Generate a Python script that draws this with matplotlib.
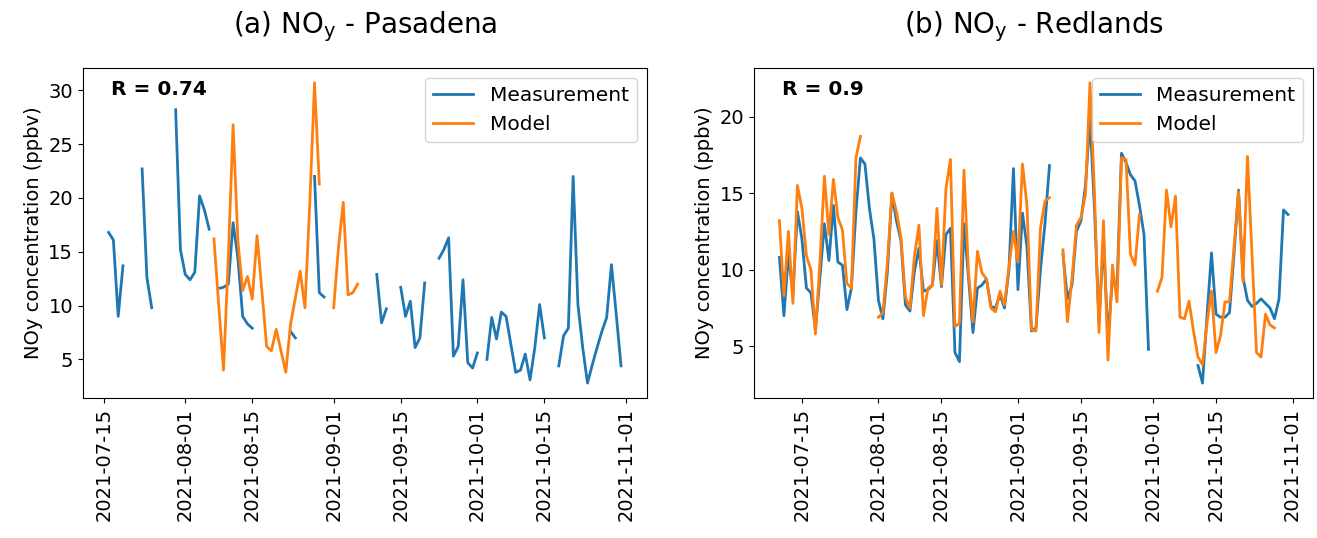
import numpy as np
import pandas as pd
import matplotlib
matplotlib.use("Agg")
import matplotlib.pyplot as plt
import matplotlib.dates as mdates

nan = np.nan

# Pasadena - daily NOy (ppbv)
pas_meas_start = "2021-07-16"
pas_meas = [16.8, 16.1, 9.0, 13.7, nan, nan, nan, 22.7, 12.6, 9.8, nan, nan, nan, nan, 28.2, 15.2,
            12.9, 12.4, 13.1, 20.2, 18.9, 17.1, nan, 11.6, 11.7, 12.0, 17.7, 14.4, 9.0, 8.3, 7.9,
            nan, nan, nan, nan, nan, nan, nan, 7.6, 7.0, nan, nan, nan, 22.0, 11.2, 10.8, nan,
            nan, nan, nan, nan, nan, nan, nan, nan, nan, 12.9, 8.4, 9.7, nan, nan, 11.7, 9.0, 10.4,
            6.1, 7.0, 12.1, nan, nan, 14.4, 15.2, 16.3, 5.3, 6.2, 12.4, 4.7, 4.2,
            5.6, nan, 5.0, 8.9, 6.9, 9.4, 9.0, 6.4, 3.8, 4.0, 5.5, 3.1, 6.1, 10.1, 7.0, nan, nan,
            4.4, 7.2, 7.9, 22.0, 10.1, 6.1, 2.8, 4.5, 6.1, 7.6, 8.9, 13.8, 9.2, 4.4]
pas_model_start = "2021-08-07"
pas_model = [16.2, 10.0, 4.0, 14.5, 26.8, 16.0, 11.4, 12.7, 10.6, 16.5, 11.4, 6.2, 5.8, 7.8,
             5.8, 3.8, 8.3, 10.7, 13.2, 9.8, 19.4, 30.7, 21.3, nan, nan,
             9.8, 15.4, 19.6, 11.0, 11.2, 12.0]

# Redlands - daily NOy (ppbv)
red_start = "2021-07-10"
red_meas = [10.8, 7.0, 11.0, 8.4, 13.8, 12.0, 8.8, 8.5, 6.1, 9.5, 13.0, 10.6, 14.2, 10.5, 10.3,
            7.4, 8.8, 13.8, 17.3, 16.9, 14.0, 12.0,
            8.0, 6.8, 9.9, 15.0, 13.2, 11.9, 7.7, 7.3, 9.9, 11.4, 8.6, 8.7, 9.0, 11.9, 8.9, 12.3,
            12.7, 4.6, 4.0, 13.0, 9.5, 5.9, 8.8, 9.0, 9.4, 7.6, 7.5, 8.4, 7.5, 10.0, 16.6,
            8.7, 13.7, 11.5, 6.0, 6.2, 10.0, 13.0, 16.8, nan, nan, 11.0, 8.1, 9.0, 12.5, 13.2,
            15.5, 19.8, 14.0, 6.5, 12.0, 5.5, 9.5, 8.8, 17.6, 17.0, 16.2, 15.8, 14.2, 12.3, 4.8,
            nan, nan, nan, nan, nan, nan, nan, nan, nan, nan, 3.75, 2.6, 7.0, 11.1, 7.1, 6.9,
            6.9, 7.2, 11.0, 15.2, 9.5, 8.0, 7.6, 7.8, 8.1, 7.8, 7.5, 6.8, 8.1, 13.9, 13.6]
red_model = [13.2, 8.3, 12.5, 7.8, 15.5, 14.0, 10.9, 10.0, 5.8, 10.5, 16.1, 12.3, 15.9, 13.4,
             12.6, 9.1, 8.8, 17.3, 18.7, nan, nan, nan,
             6.9, 7.2, 10.5, 15.0, 13.8, 12.1, 8.2, 7.5, 10.9, 12.9, 7.0, 8.8, 9.0, 14.0, 9.0,
             15.3, 17.2, 6.3, 6.5, 16.5, 9.9, 6.6, 11.2, 9.8, 9.4, 7.5, 7.25, 8.6, 7.7, 10.2, 12.5,
             10.5, 16.9, 14.2, 6.1, 6.0, 12.7, 14.5, 14.7, nan, nan, 11.3, 6.6, 9.4, 12.9, 13.4,
             14.9, 22.2, 15.0, 5.9, 13.2, 4.1, 10.3, 7.9, 17.3, 17.2, 11.0, 10.3, 13.6, nan, nan,
             nan, 8.6, 9.5, 15.2, 12.8, 14.8, 6.9, 6.8, 7.95, 6.0, 4.3, 3.8, 6.5, 8.6, 4.6, 5.7,
             7.9, 7.9, 11.5, 15.1, 9.2, 17.4, 11.0, 4.6, 4.3, 7.1, 6.4, 6.2, nan, nan, nan]

r_values = ["R = 0.74", "R = 0.9"]
titles = ["(a) NO$_\\mathregular{y}$ - Pasadena", "(b) NO$_\\mathregular{y}$ - Redlands"]


def dates_from(start, values):
    return pd.date_range(start, periods=len(values), freq="D")


fig = plt.figure(figsize=(13.17, 5.38), dpi=100)
ax1 = fig.add_axes([0.063, 0.260, 0.428, 0.614])
ax2 = fig.add_axes([0.5725, 0.260, 0.4248, 0.614])

ax1.plot(dates_from(pas_meas_start, pas_meas), pas_meas, color="tab:blue", lw=2, label="Measurement")
ax1.plot(dates_from(pas_model_start, pas_model), pas_model, color="tab:orange", lw=2, label="Model")
ax2.plot(dates_from(red_start, red_meas), red_meas, color="tab:blue", lw=2, label="Measurement")
ax2.plot(dates_from(red_start, red_model), red_model, color="tab:orange", lw=2, label="Model")

for ax, title, r in zip([ax1, ax2], titles, r_values):
    ax.set_title(title, fontsize=20, pad=25)
    ax.set_ylabel("NOy concentration (ppbv)", fontsize=14)
    ax.text(0.05, 0.935, r, transform=ax.transAxes, fontsize=14.5, fontweight="bold",
            ha="left", va="center")
    ax.legend(loc="upper right", fontsize=14.5)
    ax.xaxis.set_major_locator(mdates.DayLocator(bymonthday=[1, 15]))
    ax.xaxis.set_major_formatter(mdates.DateFormatter("%Y-%m-%d"))
    ax.tick_params(axis="both", labelsize=14)
    for lab in ax.get_xticklabels():
        lab.set_rotation(90)

ax1.set_yticks([5, 10, 15, 20, 25, 30])
ax2.set_yticks([5, 10, 15, 20])

fig.savefig("out.png", dpi=100)
